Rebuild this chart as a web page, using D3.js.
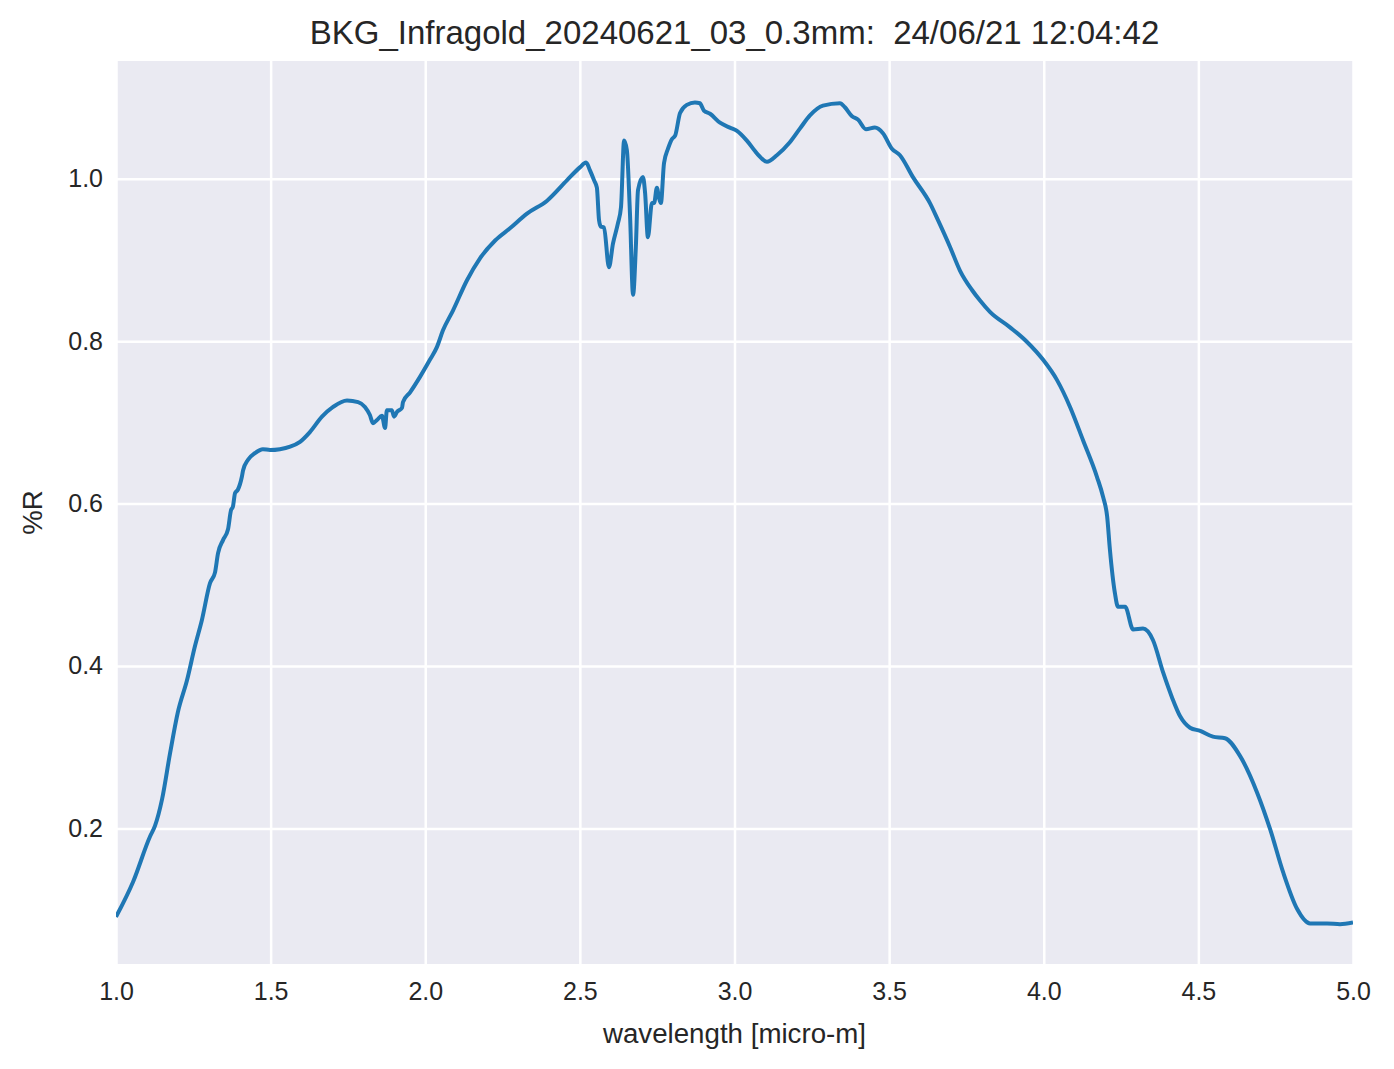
<!DOCTYPE html>
<html>
<head>
<meta charset="utf-8">
<script src="https://cdn.jsdelivr.net/npm/d3@7"></script>
<style>
  html, body { margin: 0; padding: 0; background: #ffffff; }
  svg { display: block; }
  text { font-family: "Liberation Sans", Arial, Helvetica, sans-serif; fill: #262626; }
</style>
</head>
<body>
<svg id="chart" width="1394" height="1069"></svg>
<script>
const chartTitle = "BKG_Infragold_20240621_03_0.3mm:  24/06/21 12:04:42";
const xLabel = "wavelength [micro-m]";
const yLabel = "%R";
const xTicks = [1.0, 1.5, 2.0, 2.5, 3.0, 3.5, 4.0, 4.5, 5.0];
const yTicks = [0.2, 0.4, 0.6, 0.8, 1.0];

const wavelength = [
  1.000, 1.055, 1.110, 1.126, 1.149, 1.175, 1.200, 1.230, 1.255, 1.278,
  1.304, 1.320, 1.330, 1.346, 1.362, 1.372, 1.378, 1.385, 1.394, 1.407,
  1.411, 1.427, 1.449, 1.475, 1.498, 1.530, 1.563, 1.595, 1.627, 1.666,
  1.702, 1.747, 1.783, 1.805, 1.821, 1.831, 1.844, 1.860, 1.870, 1.876,
  1.892, 1.899, 1.909, 1.925, 1.928, 1.951, 1.983, 2.015, 2.038, 2.057,
  2.090, 2.135, 2.177, 2.226, 2.274, 2.329, 2.394, 2.458, 2.500, 2.520,
  2.533, 2.546, 2.555, 2.562, 2.568, 2.578, 2.594, 2.607, 2.623, 2.633,
  2.643, 2.652, 2.662, 2.672, 2.681, 2.688, 2.704, 2.711, 2.720, 2.733,
  2.740, 2.749, 2.756, 2.762, 2.772, 2.785, 2.798, 2.808, 2.824, 2.846,
  2.872, 2.888, 2.901, 2.921, 2.953, 2.985, 3.008, 3.040, 3.073, 3.105,
  3.137, 3.179, 3.212, 3.244, 3.286, 3.341, 3.357, 3.380, 3.399, 3.425,
  3.454, 3.480, 3.509, 3.535, 3.577, 3.632, 3.658, 3.697, 3.729, 3.768,
  3.794, 3.826, 3.891, 3.946, 3.998, 4.043, 4.085, 4.127, 4.172, 4.192,
  4.205, 4.214, 4.230, 4.240, 4.263, 4.289, 4.321, 4.353, 4.386, 4.415,
  4.441, 4.473, 4.506, 4.547, 4.586, 4.635, 4.690, 4.732, 4.774, 4.819,
  4.861, 4.916, 4.958, 5.000
];
const reflectance = [
  0.091, 0.134, 0.190, 0.203, 0.236, 0.293, 0.343, 0.383, 0.424, 0.457,
  0.502, 0.515, 0.539, 0.555, 0.568, 0.592, 0.596, 0.613, 0.617, 0.633,
  0.641, 0.654, 0.662, 0.667, 0.666, 0.667, 0.670, 0.676, 0.688, 0.707,
  0.719, 0.727, 0.725, 0.719, 0.709, 0.699, 0.703, 0.708, 0.693, 0.715,
  0.715, 0.707, 0.713, 0.718, 0.725, 0.737, 0.756, 0.777, 0.793, 0.813,
  0.838, 0.875, 0.902, 0.924, 0.939, 0.957, 0.973, 0.998, 1.014, 1.020,
  1.010, 0.998, 0.989, 0.949, 0.941, 0.940, 0.891, 0.920, 0.945, 0.965,
  1.047, 1.035, 0.957, 0.857, 0.916, 0.986, 1.002, 0.982, 0.928, 0.970,
  0.970, 0.989, 0.976, 0.970, 1.019, 1.037, 1.049, 1.053, 1.081, 1.091,
  1.094, 1.093, 1.084, 1.080, 1.069, 1.063, 1.059, 1.047, 1.031, 1.021,
  1.029, 1.045, 1.062, 1.078, 1.090, 1.093, 1.088, 1.077, 1.073, 1.061,
  1.063, 1.056, 1.037, 1.029, 1.002, 0.970, 0.949, 0.916, 0.887, 0.863,
  0.850, 0.836, 0.817, 0.799, 0.777, 0.752, 0.719, 0.678, 0.633, 0.608,
  0.584, 0.543, 0.490, 0.473, 0.473, 0.445, 0.446, 0.432, 0.392, 0.361,
  0.338, 0.324, 0.320, 0.313, 0.311, 0.289, 0.244, 0.199, 0.146, 0.101,
  0.083, 0.083, 0.082, 0.084
];

const W = 1394, H = 1069;
const margin = { left: 116, top: 61, right: W - 1353, bottom: H - 964 };
const iw = W - margin.left - margin.right;
const ih = H - margin.top - margin.bottom;

const svg = d3.select("#chart");
const g = svg.append("g").attr("transform", `translate(${margin.left},${margin.top})`);

const x = d3.scaleLinear().domain([1.0, 5.0]).range([0, iw]);
const y = d3.scaleLinear().domain([0.033, 1.145]).range([ih, 0]);

g.append("rect").attr("width", iw).attr("height", ih).attr("fill", "#EAEAF2");

const xAxis = g.append("g").attr("transform", `translate(0,${ih})`)
  .call(d3.axisBottom(x).tickValues(xTicks).tickFormat(d3.format(".1f")).tickSize(-ih).tickPadding(18));
const yAxis = g.append("g")
  .call(d3.axisLeft(y).tickValues(yTicks).tickFormat(d3.format(".1f")).tickSize(-iw).tickPadding(13));

[xAxis, yAxis].forEach(a => {
  a.select(".domain").remove();
  a.selectAll(".tick line").attr("stroke", "#ffffff").attr("stroke-width", 2.5);
  a.selectAll(".tick text").attr("font-size", 25).attr("fill", "#262626")
    .style("font-family", '"Liberation Sans", Arial, sans-serif');
});

const clipId = "plotclip";
svg.append("defs").append("clipPath").attr("id", clipId)
  .append("rect").attr("width", iw).attr("height", ih);

const pts = wavelength.map((w, i) => [w, reflectance[i]]);
const line = d3.line().x(d => x(d[0])).y(d => y(d[1])).curve(d3.curveMonotoneX);

g.append("path")
  .datum(pts)
  .attr("clip-path", `url(#${clipId})`)
  .attr("fill", "none")
  .attr("stroke", "#1f77b4")
  .attr("stroke-width", 4)
  .attr("stroke-linejoin", "round")
  .attr("stroke-linecap", "butt")
  .attr("d", line);

svg.append("text")
  .attr("x", margin.left + iw / 2).attr("y", 44)
  .attr("text-anchor", "middle").attr("font-size", 33)
  .style("white-space", "pre")
  .attr("xml:space", "preserve")
  .text(chartTitle);

svg.append("text")
  .attr("x", margin.left + iw / 2).attr("y", 1043)
  .attr("text-anchor", "middle").attr("font-size", 27.7)
  .text(xLabel);

svg.append("text")
  .attr("transform", `translate(42,${margin.top + ih / 2}) rotate(-90)`)
  .attr("text-anchor", "middle").attr("font-size", 27.7)
  .text(yLabel);
</script>
</body>
</html>
